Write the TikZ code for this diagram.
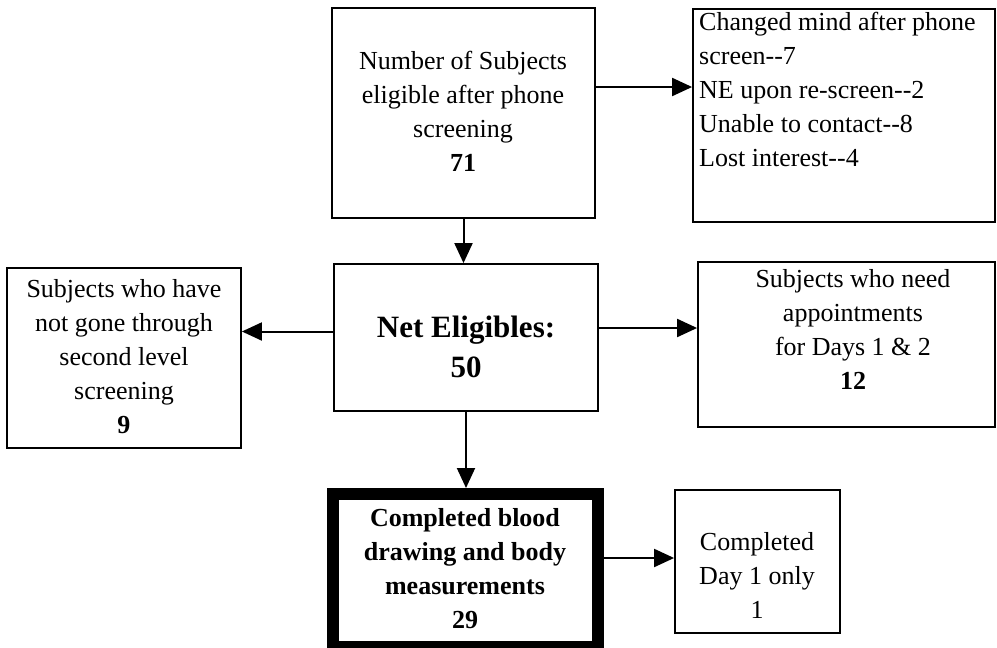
\documentclass[tikz,border=0pt]{standalone}
\usepackage{fontspec}
\setmainfont{Liberation Serif}
\usetikzlibrary{arrows.meta}
\begin{document}
\begin{tikzpicture}[x=1pt,y=-1pt,
 box/.style={draw, line width=1.8pt, inner sep=0pt},
 txt/.style={font=\fontsize{26}{34}\selectfont, align=center, inner sep=0pt},
 arr/.style={line width=2pt, -{Triangle[length=20pt,width=18pt]}}]
\useasboundingbox (0,0) rectangle (997,648);
% boxes
\node[box, minimum width=263pt, minimum height=210pt] (top) at (463.5,113) {};
\node[box, minimum width=302pt, minimum height=213pt] (rtop) at (844,115.5) {};
\node[box, minimum width=264pt, minimum height=147pt] (net) at (466,337.5) {};
\node[box, minimum width=234pt, minimum height=180pt] (left) at (124,358) {};
\node[box, minimum width=297pt, minimum height=165pt] (rmid) at (846.5,344.5) {};
\node[draw, line width=12pt, inner sep=0pt, minimum width=265pt, minimum height=153pt] (bold) at (465.5,570.5) {};
\node[box, minimum width=165pt, minimum height=143pt] (br) at (757.5,561.5) {};
% texts
\node[txt] (ttop) at (463,111) {Number of Subjects\\eligible after phone\\screening\\\textbf{71}};
\node[txt, align=left, anchor=north west] (trtop) at (699,12) {Changed mind after phone\\screen-{}-7\\NE upon re-screen-{}-2\\Unable to contact-{}-8\\Lost interest-{}-4};
\node[txt, font=\fontsize{31}{40}\selectfont\bfseries] (tnet) at (466,347) {Net Eligibles:\\50};
\node[txt] (tleft) at (124,357) {Subjects who have\\not gone through\\second level\\screening\\\textbf{9}};
\node[txt] (trmid) at (853,329) {Subjects who need\\appointments\\for Days 1 \& 2\\\textbf{12}};
\node[txt, font=\fontsize{26}{34}\selectfont\bfseries] (tbold) at (465,569) {Completed blood\\drawing and body\\measurements\\29};
\node[txt] (tbr) at (757,575) {Completed\\Day 1 only\\1};
% connectors
\draw[arr] (top.south) -- (top.south |- net.north);
\draw[arr] ([yshift=26pt]top.east) -- ([yshift=26pt]top.east -| rtop.west);
\draw[arr] ([yshift=6pt]net.west) -- ([yshift=6pt]net.west -| left.east);
\draw[arr] ([yshift=9.5pt]net.east) -- ([yshift=9.5pt]net.east -| rmid.west);
\draw[arr] (net.south) -- (net.south |- bold.north);
\draw[arr] ([yshift=12.5pt]bold.east) -- ([yshift=12.5pt]bold.east -| br.west);
\end{tikzpicture}
\end{document}
